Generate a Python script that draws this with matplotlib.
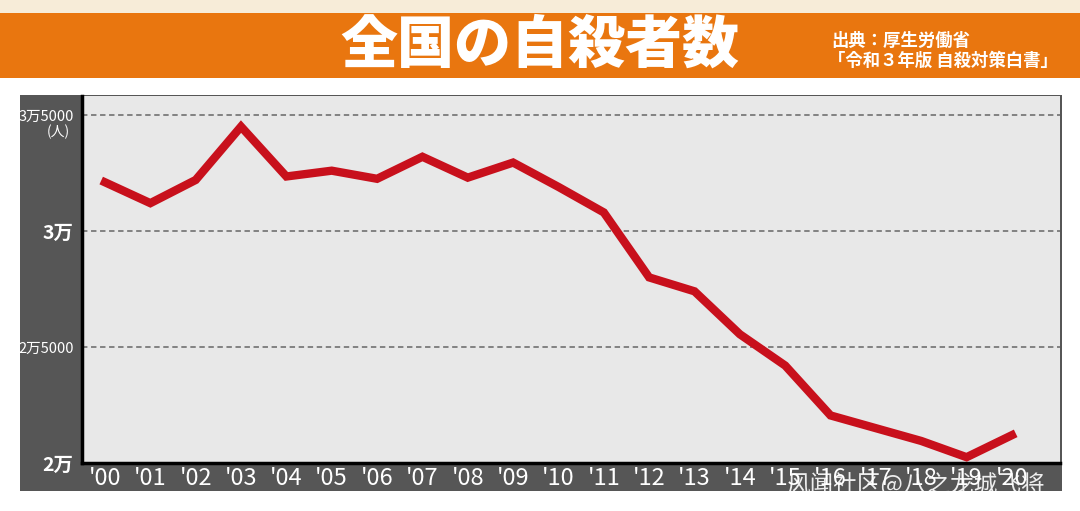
import matplotlib
matplotlib.use("Agg")
import matplotlib.pyplot as plt
from matplotlib.patches import Rectangle

# 自殺者数 (人), 2000-2020
years = ["'00", "'01", "'02", "'03", "'04", "'05", "'06", "'07", "'08", "'09", "'10",
         "'11", "'12", "'13", "'14", "'15", "'16", "'17", "'18", "'19", "'20"]
deaths = [32100, 31200, 32200, 34500, 32350, 32600, 32250, 33200, 32300, 32950, 31900,
          30800, 28000, 27400, 25550, 24200, 22050, 21500, 20950, 20250, 21200]
ytick_vals = [20000, 25000, 30000, 35000]
ytick_labels = ["2万", "2万5000", "3万", "3万5000"]

jp = ["Noto Sans CJK JP", "DejaVu Sans"]
narrow = ["Liberation Sans Narrow", "Noto Sans CJK JP", "DejaVu Sans"]

fig = plt.figure(figsize=(10.8, 5.11), dpi=100)
fig.patch.set_facecolor("white")

# top banner
fig.patches.append(Rectangle((0, 1 - 13/511), 1, 13/511, transform=fig.transFigure,
                             facecolor="#f7ecd8", edgecolor="none", zorder=0))
fig.patches.append(Rectangle((0, 1 - 78/511), 1, 65/511, transform=fig.transFigure,
                             facecolor="#e9760f", edgecolor="none", zorder=0))
fig.text(0.5, 1 - 46/511, "全国の自殺者数", family=jp, fontsize=41, fontweight="heavy",
         color="white", ha="center", va="center")
fig.text(831/1080, 1 - 41/511, "出典：厚生労働省", family=jp, fontsize=12.5,
         fontweight="bold", color="white", ha="left", va="center")
fig.text(828/1080, 1 - 61/511, "「令和３年版 自殺対策白書」", family=jp, fontsize=12.5,
         fontweight="bold", color="white", ha="left", va="center")

# dark panel behind the chart
fig.patches.append(Rectangle((20/1080, 1 - 491/511), 1042/1080, 396/511,
                             transform=fig.transFigure, facecolor="#565656",
                             edgecolor="none", zorder=0))

ax = fig.add_axes([82/1080, 1 - 463/511, 978/1080, 367/511])
ax.set_zorder(2)
ax.set_facecolor("#e8e8e8")
x = list(range(len(years)))
ax.plot(x, deaths, color="#c8101c", linewidth=6, solid_joinstyle="miter", zorder=3)

ax.set_xlim(-0.507, 21.06)
ax.set_ylim(20000, 35819)
for v in ytick_vals[1:]:
    ax.axhline(v, color="#7a7a7a", linestyle=(0, (3, 2)), linewidth=1.3, zorder=1)

ax.set_xticks(x)
ax.set_xticklabels(years, family=narrow, fontsize=17, color="white")
ax.set_yticks(ytick_vals)
ax.set_yticklabels(ytick_labels, family=narrow, fontsize=10.5, color="white")
for lab in ax.get_yticklabels():
    if len(lab.get_text()) <= 2:
        lab.set_fontsize(14)
        lab.set_fontweight("bold")
ax.tick_params(length=0, axis="x", pad=3)
ax.tick_params(length=0, axis="y", pad=6)
ax.text(-0.012, 34250, "(人)", transform=ax.get_yaxis_transform(), family=jp,
        fontsize=10, color="white", ha="right", va="center")

for s in ["top", "right"]:
    ax.spines[s].set_visible(False)
for s in ["left", "bottom"]:
    ax.spines[s].set_color("black")
    ax.spines[s].set_linewidth(2.5)

# watermark
fig.text(786/1080, 1 - 485/511, "风闻社区@八之龙城飞将", family=["Noto Sans CJK SC", "DejaVu Sans"],
         fontsize=17, color="white", alpha=0.9, ha="left", va="center", zorder=5)

fig.savefig("out.png", dpi=100)
